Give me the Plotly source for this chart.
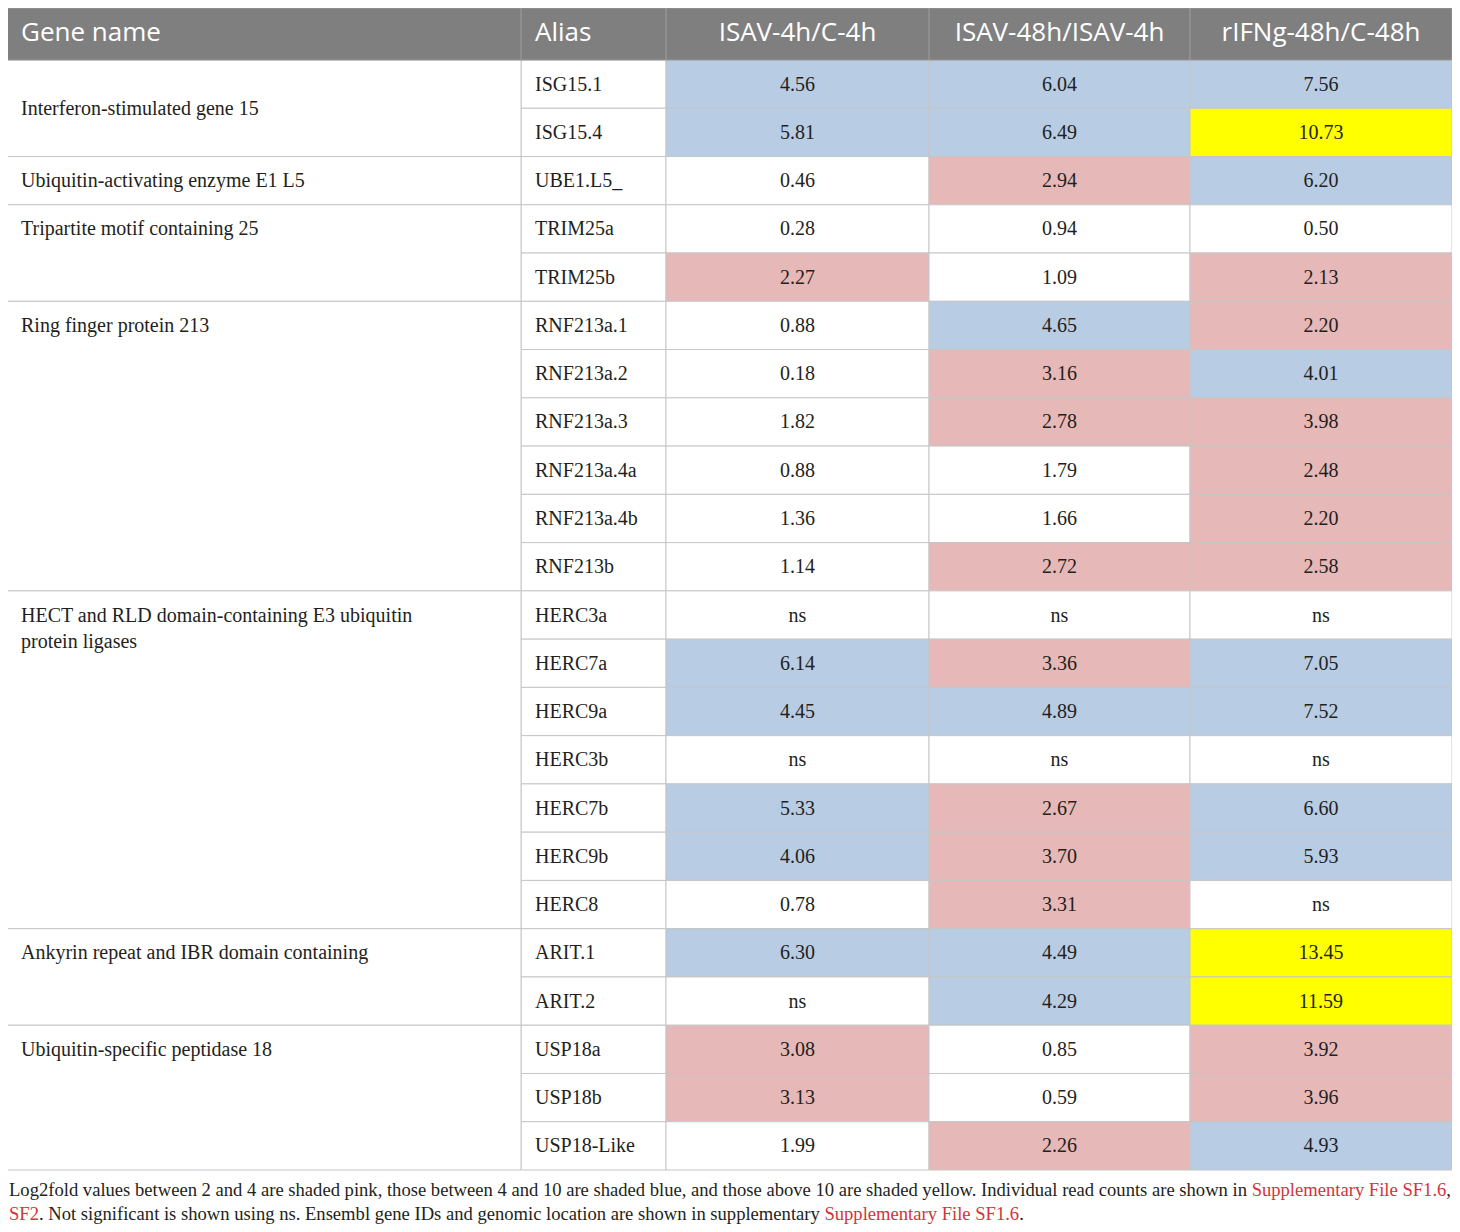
"""
Log2fold table of ISG15 pathway genes, drawn on hidden axes
"""
import plotly.graph_objects as go

# Data
header = ['Gene name', 'Alias', 'ISAV-4h/C-4h', 'ISAV-48h/ISAV-4h', 'rIFNg-48h/C-48h']

gene_names = [
    'Interferon-stimulated gene 15',
    'Ubiquitin-activating enzyme E1 L5',
    'Tripartite motif containing 25',
    'Ring finger protein 213',
    'HECT and RLD domain-containing E3 ubiquitin<br>protein ligases',
    'Ankyrin repeat and IBR domain containing',
    'Ubiquitin-specific peptidase 18',
]
gene_rows = [2, 1, 2, 6, 7, 2, 3]
gene_centered = [True, False, False, False, False, False, False]

aliases = ['ISG15.1', 'ISG15.4', 'UBE1.L5_', 'TRIM25a', 'TRIM25b',
           'RNF213a.1', 'RNF213a.2', 'RNF213a.3', 'RNF213a.4a', 'RNF213a.4b', 'RNF213b',
           'HERC3a', 'HERC7a', 'HERC9a', 'HERC3b', 'HERC7b', 'HERC9b', 'HERC8',
           'ARIT.1', 'ARIT.2', 'USP18a', 'USP18b', 'USP18-Like']

isav_4h = ['4.56', '5.81', '0.46', '0.28', '2.27',
           '0.88', '0.18', '1.82', '0.88', '1.36', '1.14',
           'ns', '6.14', '4.45', 'ns', '5.33', '4.06', '0.78',
           '6.30', 'ns', '3.08', '3.13', '1.99']
isav_48h = ['6.04', '6.49', '2.94', '0.94', '1.09',
            '4.65', '3.16', '2.78', '1.79', '1.66', '2.72',
            'ns', '3.36', '4.89', 'ns', '2.67', '3.70', '3.31',
            '4.49', '4.29', '0.85', '0.59', '2.26']
rifng_48h = ['7.56', '10.73', '6.20', '0.50', '2.13',
             '2.20', '4.01', '3.98', '2.48', '2.20', '2.58',
             'ns', '7.05', '7.52', 'ns', '6.60', '5.93', 'ns',
             '13.45', '11.59', '3.92', '3.96', '4.93']

caption = ('Log2fold values between 2 and 4 are shaded pink, those between 4 and 10 are shaded blue, '
           'and those above 10 are shaded yellow. Individual read counts are shown in '
           '<span style="color:#d6323c">Supplementary File SF1.6</span>,<br>'
           '<span style="color:#d6323c">SF2</span>. Not significant is shown using ns. '
           'Ensembl gene IDs and genomic location are shown in supplementary '
           '<span style="color:#d6323c">Supplementary File SF1.6</span>.')

# Layout geometry (pixels); page body margin is 8px, so axes are offset by that
W, H = 1460, 1232
OFF = 8
col_edges = [7, 521, 666, 929, 1190, 1452]
head_top, head_bot = 8, 60
row_h = (1170 - head_bot) / len(aliases)
text_dy = 1.5
grid = '#c6c6c6'
body_font = 'Liberation Serif'
head_font = 'Open Sans'


def shade(v):
    if v == 'ns':
        return 'white'
    v = float(v)
    if v > 10:
        return '#ffff00'
    if v >= 4:
        return '#b8cce4'
    if v >= 2:
        return '#e6b8b7'
    return 'white'


fig = go.Figure()
shapes = []

# alias and value cells
columns = [None, isav_4h, isav_48h, rifng_48h]
for c in range(4):
    for r in range(len(aliases)):
        top = head_bot + r * row_h
        fill = 'white' if c == 0 else shade(columns[c][r])
        shapes.append(dict(type='rect', xref='x', yref='y', x0=col_edges[c + 1], x1=col_edges[c + 2],
                           y0=top, y1=top + row_h, fillcolor=fill, line=dict(color=grid, width=1),
                           layer='below'))

# merged gene name cells
name_x, name_y = [], []
start = 0
for name, n, cen in zip(gene_names, gene_rows, gene_centered):
    top = head_bot + start * row_h
    shapes.append(dict(type='rect', xref='x', yref='y', x0=col_edges[0], x1=col_edges[1],
                       y0=top, y1=top + n * row_h, fillcolor='white', line=dict(color=grid, width=1),
                       layer='below'))
    nlines = name.count('<br>') + 1
    if cen:
        name_y.append(top + n * row_h / 2 + text_dy)
    else:
        name_y.append(top + row_h / 2 + (nlines - 1) * 13.5 + text_dy)
    name_x.append(col_edges[0] + 14)
    start += n

# header band
shapes.append(dict(type='rect', xref='x', yref='y', x0=col_edges[0], x1=col_edges[-1],
                   y0=head_top, y1=head_bot, fillcolor='#7f7f7f', line=dict(color='#9a9a9a', width=1),
                   layer='below'))
for xe in col_edges[1:-1]:
    shapes.append(dict(type='line', xref='x', yref='y', x0=xe, x1=xe, y0=head_top, y1=head_bot,
                       line=dict(color='#a0a0a0', width=1), layer='below'))

row_y = [head_bot + (r + 0.5) * row_h + text_dy for r in range(len(aliases))]

# header text
fig.add_trace(go.Scatter(
    x=[col_edges[0] + 14, col_edges[1] + 14], y=[34, 34], text=header[:2],
    mode='text', textposition='middle right',
    textfont=dict(family=head_font, size=26, color='white'), hoverinfo='skip'))
fig.add_trace(go.Scatter(
    x=[(col_edges[i] + col_edges[i + 1]) / 2 for i in range(2, 5)], y=[34] * 3, text=header[2:],
    mode='text', textposition='middle center',
    textfont=dict(family=head_font, size=26, color='white'), hoverinfo='skip'))

# gene names
fig.add_trace(go.Scatter(
    x=name_x, y=name_y, text=gene_names, mode='text', textposition='middle right',
    textfont=dict(family=body_font, size=20, color='#231f20'), hoverinfo='skip'))

# aliases
fig.add_trace(go.Scatter(
    x=[col_edges[1] + 14] * len(aliases), y=row_y, text=aliases, mode='text',
    textposition='middle right',
    textfont=dict(family=body_font, size=20, color='#231f20'), hoverinfo='skip'))

# values
for i, vals in enumerate([isav_4h, isav_48h, rifng_48h]):
    xc = (col_edges[i + 2] + col_edges[i + 3]) / 2
    fig.add_trace(go.Scatter(
        x=[xc] * len(vals), y=row_y, text=vals, mode='text', textposition='middle center',
        textfont=dict(family=body_font, size=20, color='#231f20'), hoverinfo='skip'))

# caption (anchor kept inside the axis range so it is not hidden)
fig.add_annotation(
    x=OFF + 1, y=1177, xref='x', yref='y', xanchor='left', yanchor='top', xshift=-2,
    text=caption, showarrow=False, align='left',
    font=dict(family=body_font, size=18.6, color='#231f20'))

fig.update_layout(
    width=W, height=H,
    margin=dict(l=0, r=0, t=0, b=0),
    paper_bgcolor='white', plot_bgcolor='white',
    showlegend=False, shapes=shapes,
)
fig.update_xaxes(range=[OFF, W + OFF], visible=False, fixedrange=True)
fig.update_yaxes(range=[H + OFF, OFF], visible=False, fixedrange=True)

fig.write_html('out.html')
